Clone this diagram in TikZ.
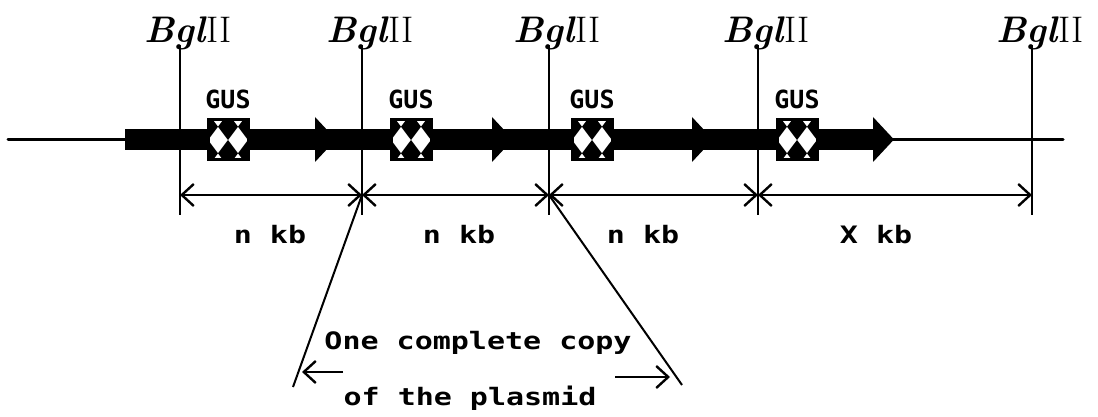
\documentclass[tikz,border=0pt]{standalone}
\usepackage{fontspec}
\usetikzlibrary{arrows.meta}
\newfontfamily\dotfont[FakeStretch=1.25]{DejaVu Sans Mono}
\newfontfamily\gusfont{DejaVu Sans Mono}

\begin{document}
\begin{tikzpicture}[x=0.5pt, y=-0.5pt, >={Straight Barb[length=6pt,width=11pt]},
  site/.style={line width=1pt},
  bgl/.style={font=\fontsize{18.5}{18.5}\selectfont, anchor=base, inner sep=0},
  gus/.style={font=\gusfont\bfseries\fontsize{12.5}{12.5}\selectfont, inner sep=0},
  kb/.style={font=\dotfont\bfseries\fontsize{12}{12}\selectfont, inner sep=0},
  dim/.style={<->, line width=1.2pt},
  gusbox/.style={draw, line width=1.5pt, fill=white, inner sep=0,
    minimum width=20pt, minimum height=20pt,
    path picture={\begin{scope}[shift={(path picture bounding box.center)}]
      \foreach \u in {-2,0,2}
        \foreach \v in {-1,1}
          \fill [black] (\u*10-10,\v*13.3) -- (\u*10,\v*13.3-13.3)
            -- (\u*10+10,\v*13.3) -- (\u*10,\v*13.3+13.3) -- cycle;
    \end{scope}}}]
\useasboundingbox (0,0) rectangle (1098,417);

% restriction sites
\foreach \x [count=\i] in {180, 362, 549, 758, 1032} {
  \coordinate (top-\i) at (\x,45);
  \coordinate (dim-\i) at (\x,195);
  \coordinate (bot-\i) at (\x,215);
  \node [bgl] (bgl-\i) at (\x+8,43) {\textbf{\textit{Bgl}}II};
  \draw [site] (top-\i) -- (bot-\i);
}

% plasmid copies in tandem
\coordinate (track-l) at (8,140);
\coordinate (track-r) at (1063,140);
\draw [line width=1.5pt, line cap=round] (track-l) -- (track-r);
\fill (125,129) rectangle (873,150);
\foreach \b in {315, 492, 692, 873}
  \fill (\b,117) -- (\b+21,139.5) -- (\b,162) -- cycle;

\foreach \c [count=\i] in {228, 411, 592, 797} {
  \node [gusbox] (box-\i) at (\c,140) {};
  \node [gus] (gus-\i) at (\c,99) {GUS};
}

% distances
\foreach \i/\j in {1/2, 2/3, 3/4, 4/5}
  \draw [dim] (dim-\i) -- (dim-\j);

\foreach \x/\t [count=\i] in {270/n, 459/n, 643/n, 876/X}
  \node [kb] (kb-\i) at (\x,235) {\t\ kb};

% one copy
\coordinate (copy-l) at (293,387);
\coordinate (copy-r) at (682,385);
\draw [line width=1pt] (dim-2) -- (copy-l);
\draw [line width=1pt] (dim-3) -- (copy-r);

\node [kb] (copy-1) at (478,343) {One complete copy};
\node [kb] (copy-2) at (470,398) {of the plasmid};

\coordinate (tail-l) at (343,372);
\coordinate (tip-l) at (302,372);
\coordinate (tail-r) at (615,377);
\coordinate (tip-r) at (670,377);
\draw [->, line width=1.2pt] (tail-l) -- (tip-l);
\draw [->, line width=1.2pt] (tail-r) -- (tip-r);
\end{tikzpicture}
\end{document}
